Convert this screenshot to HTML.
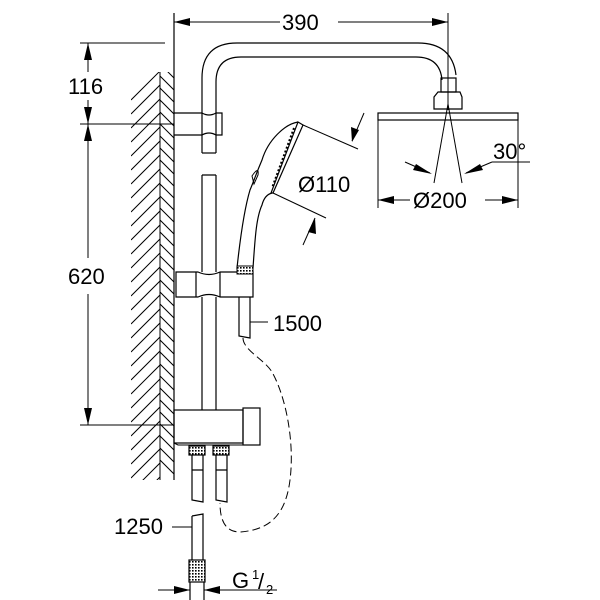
<!DOCTYPE html>
<html><head><style>html,body{margin:0;padding:0;background:#fff}svg{display:block}</style></head><body>
<svg width="600" height="600" viewBox="0 0 600 600" xmlns="http://www.w3.org/2000/svg" font-family="Liberation Sans, sans-serif">
<defs>
<clipPath id="w1"><rect x="131" y="72" width="29" height="408"/></clipPath>
<clipPath id="w2"><rect x="160" y="72" width="14" height="408"/></clipPath>
<pattern id="kn" width="3" height="3" patternUnits="userSpaceOnUse"><rect width="3" height="3" fill="#fff"/><rect width="1.6" height="1.6" fill="#000"/></pattern>
</defs>
<g stroke="#000" fill="none" stroke-width="1.2">
<g clip-path="url(#w1)" stroke-width="1">
<path d="M131,100 L170,61 M131,114 L170,75 M131,128 L170,89 M131,142 L170,103 M131,156 L170,117 M131,170 L170,131 M131,184 L170,145 M131,198 L170,159 M131,212 L170,173 M131,226 L170,187 M131,240 L170,201 M131,254 L170,215 M131,268 L170,229 M131,282 L170,243 M131,296 L170,257 M131,310 L170,271 M131,324 L170,285 M131,338 L170,299 M131,352 L170,313 M131,366 L170,327 M131,380 L170,341 M131,394 L170,355 M131,408 L170,369 M131,422 L170,383 M131,436 L170,397 M131,450 L170,411 M131,464 L170,425 M131,478 L170,439 M131,492 L170,453 M131,506 L170,467 M131,520 L170,481"/>
</g>
<g clip-path="url(#w2)" stroke-width="1">
<path d="M160,64 L176,80 M160,76 L176,92 M160,88 L176,104 M160,100 L176,116 M160,112 L176,128 M160,124 L176,140 M160,136 L176,152 M160,148 L176,164 M160,160 L176,176 M160,172 L176,188 M160,184 L176,200 M160,196 L176,212 M160,208 L176,224 M160,220 L176,236 M160,232 L176,248 M160,244 L176,260 M160,256 L176,272 M160,268 L176,284 M160,280 L176,296 M160,292 L176,308 M160,304 L176,320 M160,316 L176,332 M160,328 L176,344 M160,340 L176,356 M160,352 L176,368 M160,364 L176,380 M160,376 L176,392 M160,388 L176,404 M160,400 L176,416 M160,412 L176,428 M160,424 L176,440 M160,436 L176,452 M160,448 L176,464 M160,460 L176,476"/>
</g>
<line x1="160" y1="72" x2="160" y2="480" stroke-width="1"/>
<line x1="174" y1="13" x2="174" y2="480"/>
<line x1="174" y1="22" x2="280" y2="22" stroke-width="1"/>
<line x1="338" y1="22" x2="448" y2="22" stroke-width="1"/>
<line x1="448" y1="13" x2="448" y2="110" stroke-width="1"/>
<line x1="80" y1="43" x2="165" y2="43" stroke-width="1"/>
<line x1="80" y1="124" x2="174" y2="124" stroke-width="1"/>
<line x1="80" y1="425" x2="174" y2="425" stroke-width="1"/>
<line x1="88" y1="43" x2="88" y2="72" stroke-width="1"/>
<line x1="88" y1="100" x2="88" y2="124" stroke-width="1"/>
<line x1="88" y1="124" x2="88" y2="258" stroke-width="1"/>
<line x1="88" y1="294" x2="88" y2="425" stroke-width="1"/>
<path d="M202,153 L202,78 Q202,43 237,43 L418,43 Q452,43 456,75"/>
<path d="M216,153 L216,82 Q216,57 241,57 L416,57 Q440,57 442,80"/>
<rect x="441" y="78" width="15" height="14"/>
<path d="M438,92 L460,92 L462,97 L462,109 L434,109 L434,97 Z"/>
<rect x="378" y="113" width="140" height="7"/>
<line x1="378" y1="120" x2="378" y2="208" stroke-width="1"/>
<line x1="518" y1="120" x2="518" y2="208" stroke-width="1"/>
<line x1="448" y1="104" x2="434" y2="183" stroke-width="1"/>
<line x1="448" y1="104" x2="462" y2="183" stroke-width="1"/>
<line x1="405" y1="162" x2="430" y2="173" stroke-width="1"/>
<line x1="530" y1="162" x2="492" y2="162" stroke-width="1"/>
<line x1="492" y1="162" x2="466" y2="173" stroke-width="1"/>
<line x1="378" y1="200" x2="410" y2="200" stroke-width="1"/>
<line x1="485" y1="200" x2="518" y2="200" stroke-width="1"/>
<path d="M174,113 L202,113 Q209,117 216,113 L222,113 L222,135 L216,135 Q209,131 202,135 L174,135"/>
<path d="M202,153 L216,153"/>
<path d="M202,175 L216,175 M202,175 L202,272 M216,175 L216,272"/>
<path d="M202,297 L202,410 M216,297 L216,410"/>
<path d="M176,272 L198,272 Q209,277 220,272 L253,272 L253,297 L220,297 Q209,292 198,297 L176,297 Z"/>
<line x1="196" y1="272" x2="196" y2="297"/>
<line x1="220" y1="272" x2="220" y2="297"/>
<path d="M298,122 C285,124 268,140 262,160 C256,174 255,178 250,190 C244,210 240,240 237,268 L253,268 C255,240 256,218 262,205 C264,197 268,194 272,193"/>
<path d="M298,122 L303,125 L273,193 L271,193 Z"/>
<path d="M294,128 L272,188" stroke-width="2" stroke-dasharray="2,2"/>
<path d="M252,176 C256,170 259,168 258,175 L254,184 Z" stroke-width="1"/>
<rect x="237" y="266" width="16" height="8" fill="url(#kn)" stroke-width="1"/>
<line x1="303" y1="125" x2="358" y2="149" stroke-width="1"/>
<line x1="273" y1="193" x2="326" y2="218" stroke-width="1"/>
<line x1="364" y1="113" x2="352" y2="141" stroke-width="1"/>
<line x1="303" y1="245" x2="315" y2="218" stroke-width="1"/>
<path d="M239,297 L239,336 L250,338 L250,297"/>
<line x1="250" y1="322" x2="268" y2="322" stroke-width="1"/>
<path d="M243,338 C243,350 265,360 272,372 C285,395 295,440 290,480 C285,520 265,530 240,532 C225,532 220,520 220,503" stroke-width="1" stroke-dasharray="8,4"/>
<rect x="174" y="410" width="69" height="33"/>
<rect x="243" y="408" width="17" height="37"/>
<path d="M174,443 L178,445 L243,445" stroke-width="1"/>
<rect x="189" y="446" width="16" height="9" fill="url(#kn)"/>
<rect x="213" y="446" width="16" height="9" fill="url(#kn)"/>
<path d="M192,455 L192,500 L203,502 L203,455 M192,470 L203,470"/>
<path d="M216,455 L216,500 L227,502 L227,455 M216,470 L227,470"/>
<path d="M192,516 L203,514 L203,560 M192,516 L192,560"/>
<line x1="172" y1="527" x2="192" y2="527" stroke-width="1"/>
<rect x="189" y="560" width="16" height="22" fill="url(#kn)"/>
<line x1="190" y1="582" x2="190" y2="600"/>
<line x1="204" y1="582" x2="204" y2="600"/>
<line x1="158" y1="590" x2="190" y2="590" stroke-width="1"/>
<line x1="204" y1="590" x2="277" y2="590" stroke-width="1"/>
</g>
<g fill="#000">
<path d="M174,22 L190,18 L190,26 Z"/>
<path d="M448,22 L432,18 L432,26 Z"/>
<path d="M88,43 L84,60 L92,60 Z"/>
<path d="M88,124 L84,107 L92,107 Z"/>
<path d="M88,124 L84,141 L92,141 Z"/>
<path d="M88,425 L84,408 L92,408 Z"/>
<path d="M378,200 L394,196 L394,204 Z"/>
<path d="M518,200 L502,196 L502,204 Z"/>
<path d="M432,174 L416,164 L413,170 Z"/>
<path d="M464,174 L480,164 L483,170 Z"/>
<path d="M352,142 L351,127 L359,130 Z"/>
<path d="M315,218 L308,232 L316,234 Z"/>
<path d="M190,590 L174,586 L174,594 Z"/>
<path d="M204,590 L220,586 L220,594 Z"/>
</g>
<g font-size="22" fill="#000">
<text x="282" y="30">390</text>
<text x="68" y="94">116</text>
<text x="68" y="284">620</text>
<text x="298" y="192">Ø110</text>
<text x="493" y="159">30°</text>
<text x="413" y="208">Ø200</text>
<text x="273" y="331">1500</text>
<text x="114" y="534">1250</text>
<text x="232" y="588">G</text>
<text x="252" y="579" font-size="13">1</text>
<text x="258" y="589">/</text>
<text x="266" y="594" font-size="13">2</text>
</g>
</svg>
</body></html>
